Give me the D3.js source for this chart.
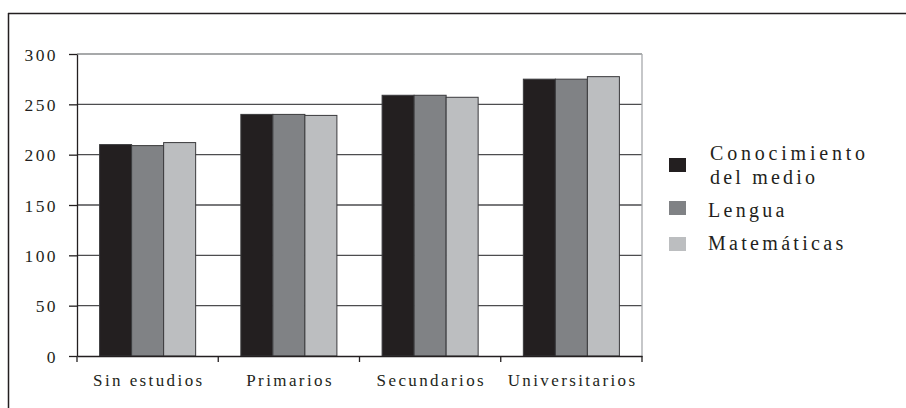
<!DOCTYPE html>
<html><head><meta charset="utf-8">
<script src="https://cdn.jsdelivr.net/npm/d3@7"></script>
</head><body style="margin:0;background:#fff">
<svg id="c" width="906" height="408" style="display:block"></svg>
<script>
const categories = ["Sin estudios","Primarios","Secundarios","Universitarios"];
const seriesNames = ["Conocimiento del medio","Lengua","Matemáticas"];
const conocimiento = [210, 240, 259, 275];
const lengua = [209, 240, 259, 275];
const matematicas = [212, 239, 257, 277.5];
const yTicks = [0,50,100,150,200,250,300];
const colors = ["#231f20","#808285","#bcbec0"];
const values = [conocimiento, lengua, matematicas];
const FONT = "Liberation Serif";

const svg = d3.select("#c");
const L=77, R=642, T=54, B=356;
// outer frame
svg.append("line").attr("x1",8).attr("x2",906).attr("y1",13.5).attr("y2",13.5).attr("stroke","#231f20").attr("stroke-width",1.5);
svg.append("line").attr("x1",8.5).attr("x2",8.5).attr("y1",13).attr("y2",408).attr("stroke","#231f20").attr("stroke-width",1.5);

const x = d3.scaleBand().domain(categories).range([L,R]).paddingInner(0.32).paddingOuter(0.16);
const xs = d3.scaleBand().domain(d3.range(seriesNames.length)).range([0,x.bandwidth()]);
const y = d3.scaleLinear().domain([0,300]).range([B,T]);

// gridlines
svg.append("g").selectAll("line").data(yTicks.filter(d=>d>0)).join("line")
  .attr("x1",L).attr("x2",R).attr("y1",d=>y(d)).attr("y2",d=>y(d))
  .attr("stroke",d=>d===300?"#8a8c8e":"#4d4d4f").attr("stroke-width",1.3);
// right border
svg.append("line").attr("x1",R).attr("x2",R).attr("y1",T).attr("y2",B).attr("stroke","#a7a9ac").attr("stroke-width",1.3);

// bars
const g = svg.append("g");
categories.forEach((c,i)=>{
  values.forEach((vals,s)=>{
    g.append("rect").attr("x",x(c)+xs(s)).attr("width",xs.bandwidth())
      .attr("y",y(vals[i])).attr("height",B-y(vals[i]))
      .attr("fill",colors[s]).attr("stroke","#3a3a3c").attr("stroke-width",1);
  });
});

// y axis
const ya = svg.append("g").attr("transform",`translate(${L},0)`)
  .call(d3.axisLeft(y).tickValues(yTicks).tickSize(8).tickSizeOuter(0).tickPadding(11));
ya.attr("font-family",FONT).attr("font-size",17);
ya.select(".domain").attr("stroke","#231f20").attr("stroke-width",1.3);
ya.selectAll(".tick line").attr("stroke","#231f20").attr("stroke-width",1.3);
ya.selectAll("text").attr("font-family",FONT).attr("font-size",17.5).attr("letter-spacing",2.4).attr("fill","#231f20").attr("dy","0.36em");

// x axis
const xa = svg.append("g").attr("transform",`translate(0,${B})`)
  .call(d3.axisBottom(x).tickSize(0).tickPadding(18));
xa.attr("font-family",FONT).attr("font-size",17);
xa.select(".domain").attr("stroke","#231f20").attr("stroke-width",1.3);
xa.selectAll("text").attr("font-family",FONT).attr("font-size",17).attr("letter-spacing",2.4).attr("fill","#231f20").attr("dx","1.2px");
// category boundary ticks
const bounds = d3.range(categories.length+1).map(i=>L+i*(R-L)/categories.length);
svg.append("g").selectAll("line").data(bounds).join("line")
  .attr("x1",d=>d).attr("x2",d=>d).attr("y1",B).attr("y2",B+6)
  .attr("stroke","#231f20").attr("stroke-width",1.3);

// legend
const leg = svg.append("g");
const legRows = [
  {lines:["Conocimiento","del medio"], sy:158, ty:160, ls:[3.8,3.2]},
  {lines:["Lengua"], sy:201, ty:217, ls:[3.3]},
  {lines:["Matemáticas"], sy:237, ty:250, ls:[3.3]}
];
legRows.forEach((r,s)=>{
  leg.append("rect").attr("x",669).attr("y",r.sy).attr("width",17).attr("height",14).attr("fill",colors[s]);
  r.lines.forEach((t,k)=>{
    leg.append("text").attr("x",s===0?710:708).attr("y",r.ty+k*24)
      .attr("font-family",FONT).attr("font-size",20).attr("letter-spacing",r.ls[k])
      .attr("fill","#231f20").text(t);
  });
});
</script></body></html>
